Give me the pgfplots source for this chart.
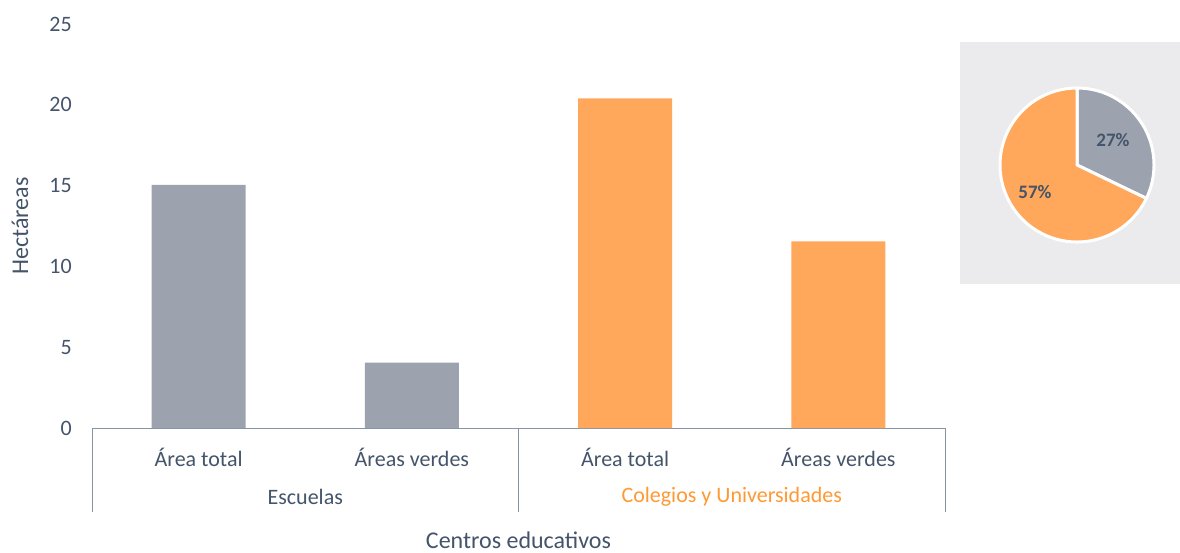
\documentclass[border=0pt]{standalone}
\usepackage{pgfplots}
\pgfplotsset{compat=1.18}
\usepackage{pgfplotstable}
\usepackage{fontspec}
\setmainfont{Carlito}
\definecolor{txt}{HTML}{44546A}
\definecolor{bgray}{HTML}{9CA3AE}
\definecolor{bor}{HTML}{FFA75A}
\definecolor{lor}{HTML}{FF9933}
\definecolor{axl}{HTML}{8595A5}
\definecolor{boxg}{HTML}{EBEBEE}
\pgfplotstableread{
x y
0 15.05
1 4.05
}\escuelas
\pgfplotstableread{
x y
2 20.4
3 11.55
}\colegios
\def\pa{27}
\def\pb{57}
\pgfmathsetmacro{\ea}{90-360*\pa/(\pa+\pb)}
\pgfmathsetmacro{\cx}{77*cos(\ea)}
\pgfmathsetmacro{\cy}{77*sin(\ea)}
\begin{document}
\begin{tikzpicture}[font=\fontsize{22}{26}\selectfont, text=txt]
\path[use as bounding box] (0,0) rectangle (1180pt,552pt);
\begin{axis}[
  at={(92pt,124pt)}, anchor=south west,
  scale only axis, width=853pt, height=404pt,
  xmin=-0.5, xmax=3.5, ymin=0, ymax=25,
  ytick={0,5,10,15,20,25},
  xtick={0,1,2,3},
  xticklabels={Área total, Áreas verdes, Área total, Áreas verdes},
  axis x line*=bottom, axis y line*=left,
  y axis line style={draw=none},
  x axis line style={draw=axl, line width=1pt, -},
  major tick length=0pt,
  tick label style={font=\fontsize{22}{26}\selectfont, text=txt},
  yticklabel style={anchor=east, inner sep=0pt, xshift=-20pt},
  xticklabel style={anchor=center, inner sep=0pt, yshift=-29pt},
  /pgf/number format/assume math mode=true,
  clip=false,
]
\addplot[ybar, bar width=94pt, bar shift=0pt, fill=bgray, draw=none] table[x=x,y=y]{\escuelas};
\addplot[ybar, bar width=94pt, bar shift=0pt, fill=bor, draw=none] table[x=x,y=y]{\colegios};
\draw[axl, line width=1pt] (axis cs:-0.5,0) -- ([yshift=-84pt]axis cs:-0.5,0);
\draw[axl, line width=1pt] (axis cs:1.5,0) -- ([yshift=-84pt]axis cs:1.5,0);
\draw[axl, line width=1pt] (axis cs:3.5,0) -- ([yshift=-84pt]axis cs:3.5,0);
\node[anchor=center, text=txt] at ([yshift=-69pt]axis cs:0.5,0) {Escuelas};
\node[anchor=center, text=lor] at ([yshift=-69pt]axis cs:2.5,0) {Colegios y Universidades};
\node[anchor=center, inner sep=0pt, text=txt, font=\fontsize{24}{28}\selectfont] at ([yshift=-112pt]axis cs:1.5,0) {Centros educativos};
\node[anchor=center, text=txt, rotate=90, font=\fontsize{24}{28}\selectfont] at ([xshift=-72pt]axis description cs:0,0.5) {Hectáreas};
\end{axis}
\begin{axis}[
  at={(960pt,268pt)}, anchor=south west,
  scale only axis, width=220pt, height=242pt,
  xmin=-117, xmax=103, ymin=-119, ymax=123,
  hide axis, clip=false,
]
\fill[boxg] (axis cs:-117,-119) rectangle (axis cs:103,123);
\fill[bgray, draw=white, line width=3pt, line join=round] (axis cs:0,0) -- (axis cs:0,77) arc[start angle=90, end angle=\ea, radius=77pt] -- cycle;
\fill[bor, draw=white, line width=3pt, line join=round] (axis cs:0,0) -- (axis cs:\cx,\cy) arc[start angle=\ea, end angle=-270, radius=77pt] -- cycle;
\node[font=\bfseries\fontsize{19}{23}\selectfont, text=txt] at (axis cs:36,25) {\pa\%};
\node[font=\bfseries\fontsize{19}{23}\selectfont, text=txt] at (axis cs:-42,-27) {\pb\%};
\end{axis}
\end{tikzpicture}
\end{document}
